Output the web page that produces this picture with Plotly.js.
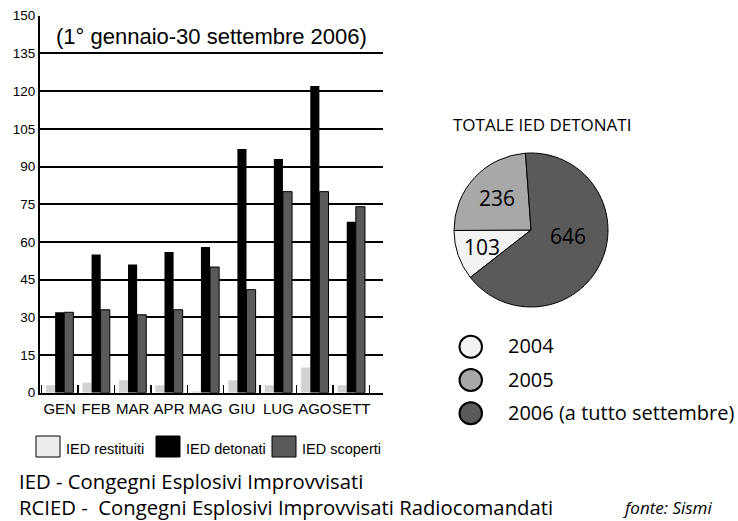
<!DOCTYPE html>
<html><head><meta charset="utf-8">
<script src="https://cdn.plot.ly/plotly-3.0.1.min.js"></script>
<style>html,body{margin:0;padding:0;background:#fff;} #chart{width:738px;height:521px;}</style>
</head><body><div id="chart"></div>
<script>
// ---- data ----
const months = ['GEN','FEB','MAR','APR','MAG','GIU','LUG','AGO','SETT'];
const restituiti = [3, 4, 5, 3, 0.5, 5, 3, 10, 3];
const detonati = [32, 55, 51, 56, 58, 97, 93, 122, 68];
const scoperti = [32, 33, 31, 33, 50, 41, 80, 80, 74];
const barNames = ['IED restituiti', 'IED detonati', 'IED scoperti'];
const yTicks = [0, 15, 30, 45, 60, 75, 90, 105, 120, 135, 150];
const pieLabels = ['2004', '2005', '2006 (a tutto settembre)'];
const pieValues = [103, 236, 646];
const chartTitle = '(1° gennaio-30 settembre 2006)';
const pieTitle = 'TOTALE IED DETONATI';
const notes = ['IED - Congegni Esplosivi Improvvisati', 'RCIED -  Congegni Esplosivi Improvvisati Radiocomandati'];
const source = 'fonte: Sismi';

// ---- styling ----
const W = 738, H = 521;
const px = x => x / W;
const py = y => 1 - y / H;
const barColors = ['#d2d2d2', '#000000', '#5a5a5a'];
const barLegendColors = ['#ececec', '#000000', '#5a5a5a'];
const barLines = [0, 0, 1];
const pieColors = ['#f3f3f3', '#a8a8a8', '#5a5a5a'];
const arial = '"Liberation Sans", Arial, sans-serif';
const humanist = '"Open Sans", "Noto Sans", sans-serif';
const pieCx = 531, pieCy = 230, pieR = 77, pieRot = -128;
const labelRadius = [0.67, 0.61, 0.49];
const labelAngleShift = [0, 0, -15];

const series = [restituiti, detonati, scoperti];
const traces = series.map((vals, i) => ({
  type: 'bar', x: months, y: vals, name: barNames[i],
  marker: {color: barColors[i], line: {color: '#000', width: barLines[i]}},
  xaxis: 'x', yaxis: 'y', showlegend: false, hoverinfo: 'x+y+name'
}));

traces.push({
  type: 'pie', labels: pieLabels, values: pieValues, sort: false,
  direction: 'clockwise', rotation: pieRot,
  marker: {colors: pieColors, line: {color: '#000', width: 1}},
  textinfo: 'none',
  domain: {x: [px(pieCx - pieR), px(pieCx + pieR)], y: [py(pieCy + pieR), py(pieCy - pieR)]},
  showlegend: false, hoverinfo: 'label+value'
});

const shapes = [];
const annotations = [];

annotations.push({xref: 'paper', yref: 'paper', x: px(211.5), y: py(37), xanchor: 'center', yanchor: 'middle',
  text: chartTitle, showarrow: false, font: {family: arial, size: 22, color: '#000'}});
annotations.push({xref: 'paper', yref: 'paper', x: px(451), y: py(124.5), xanchor: 'left', yanchor: 'middle',
  text: pieTitle, showarrow: false, font: {family: humanist, size: 17, color: '#000'}});

// pie value labels at each slice's mid angle
const total = pieValues.reduce((a, b) => a + b, 0);
let acc = 0;
pieValues.forEach((v, i) => {
  const mid = (pieRot + labelAngleShift[i] + (acc + v / 2) / total * 360) * Math.PI / 180;
  acc += v;
  const r = pieR * labelRadius[i];
  annotations.push({xref: 'paper', yref: 'paper',
    x: px(pieCx + r * Math.sin(mid)), y: py(pieCy - r * Math.cos(mid)),
    xanchor: 'center', yanchor: 'middle', text: String(v), showarrow: false,
    font: {family: humanist, size: 21, color: '#000'}});
});

// bar legend
const boxX = [36, 156, 272];
barNames.forEach((n, i) => {
  shapes.push({type: 'rect', xref: 'paper', yref: 'paper', x0: px(boxX[i]), x1: px(boxX[i] + 24),
    y0: py(457), y1: py(436), fillcolor: barLegendColors[i], line: {color: '#000', width: 1}});
  annotations.push({xref: 'paper', yref: 'paper', x: px(boxX[i] + 28), y: py(449), xanchor: 'left', yanchor: 'middle',
    text: n, showarrow: false, font: {family: arial, size: 14.5, color: '#000'}});
});

// pie legend
const legY = [346.7, 380, 413.3];
pieLabels.forEach((l, i) => {
  shapes.push({type: 'circle', xref: 'paper', yref: 'paper', x0: px(459.5), x1: px(482),
    y0: py(legY[i] + 11), y1: py(legY[i] - 11), fillcolor: pieColors[i], line: {color: '#000', width: 2}});
  annotations.push({xref: 'paper', yref: 'paper', x: px(506), y: py(legY[i] - 1), xanchor: 'left', yanchor: 'middle',
    text: l, showarrow: false, font: {family: humanist, size: 20, color: '#000'}});
});

// notes
const noteY = [481, 507];
notes.forEach((t, i) => {
  annotations.push({xref: 'paper', yref: 'paper', x: px(17), y: py(noteY[i]), xanchor: 'left', yanchor: 'middle',
    text: t, showarrow: false, font: {family: humanist, size: 20.3, color: '#000'}});
});
annotations.push({xref: 'paper', yref: 'paper', x: px(621), y: 0, xanchor: 'left', yanchor: 'bottom',
  text: '<i>' + source + '</i>', showarrow: false, font: {family: humanist, size: 17, color: '#000'}});

const layout = {
  width: W, height: H,
  margin: {l: 0, r: 0, t: 0, b: 0},
  paper_bgcolor: '#fff', plot_bgcolor: '#fff',
  barmode: 'group', bargap: 0.25, bargroupgap: 0,
  showlegend: false,
  xaxis: {
    domain: [px(40), px(383)], range: [-0.54, 8.87], type: 'category',
    showgrid: false, showline: true, linecolor: '#000', linewidth: 2, zeroline: false,
    ticks: 'inside', tickson: 'boundaries', ticklen: 8, tickwidth: 1.5, tickcolor: '#000',
    tickangle: 0, ticklabelstandoff: 1,
    tickfont: {family: arial, size: 15, color: '#000'}, automargin: false, fixedrange: true
  },
  yaxis: {
    domain: [py(392.7), py(15.7)], range: [0, 150],
    tickmode: 'array', tickvals: yTicks, ticktext: yTicks.map(String),
    showgrid: true, gridcolor: '#000', gridwidth: 2,
    showline: true, linecolor: '#000', linewidth: 2, zeroline: false, ticks: '',
    tickfont: {family: arial, size: 13.5, color: '#000'}, automargin: false, fixedrange: true
  },
  shapes: shapes, annotations: annotations
};

Plotly.newPlot('chart', traces, layout, {staticPlot: true, displayModeBar: false});
</script>
</body></html>
